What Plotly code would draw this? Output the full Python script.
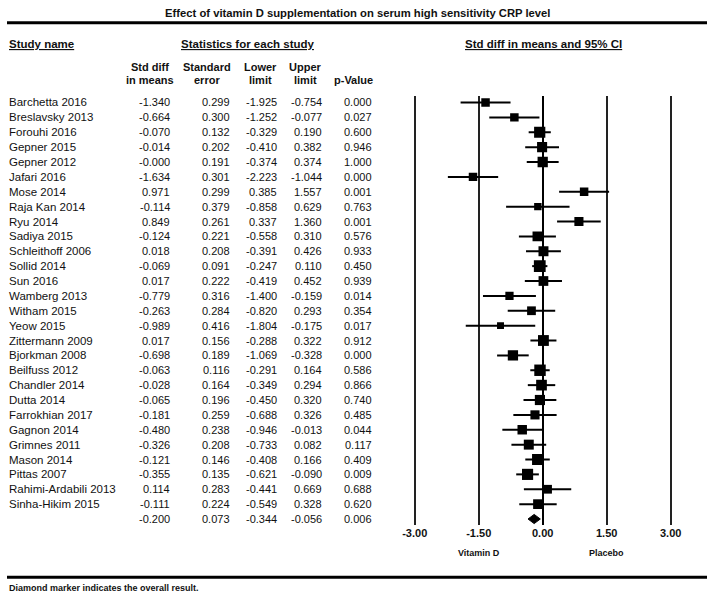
import plotly.graph_objects as go

# ---------------- data ----------------
studies = ["Barchetta 2016", "Breslavsky 2013", "Forouhi 2016", "Gepner 2015", "Gepner 2012",
           "Jafari 2016", "Mose 2014", "Raja Kan 2014", "Ryu 2014", "Sadiya 2015",
           "Schleithoff 2006", "Sollid 2014", "Sun 2016", "Wamberg 2013", "Witham 2015",
           "Yeow 2015", "Zittermann 2009", "Bjorkman 2008", "Beilfuss 2012", "Chandler 2014",
           "Dutta 2014", "Farrokhian 2017", "Gagnon 2014", "Grimnes 2011", "Mason 2014",
           "Pittas 2007", "Rahimi-Ardabili 2013", "Sinha-Hikim 2015"]
std_diff = [-1.340, -0.664, -0.070, -0.014, -0.0, -1.634, 0.971, -0.114, 0.849, -0.124,
            0.018, -0.069, 0.017, -0.779, -0.263, -0.989, 0.017, -0.698, -0.063, -0.028,
            -0.065, -0.181, -0.480, -0.326, -0.121, -0.355, 0.114, -0.111]
std_err = [0.299, 0.300, 0.132, 0.202, 0.191, 0.301, 0.299, 0.379, 0.261, 0.221,
           0.208, 0.091, 0.222, 0.316, 0.284, 0.416, 0.156, 0.189, 0.116, 0.164,
           0.196, 0.259, 0.238, 0.208, 0.146, 0.135, 0.283, 0.224]
lower = [-1.925, -1.252, -0.329, -0.410, -0.374, -2.223, 0.385, -0.858, 0.337, -0.558,
         -0.391, -0.247, -0.419, -1.400, -0.820, -1.804, -0.288, -1.069, -0.291, -0.349,
         -0.450, -0.688, -0.946, -0.733, -0.408, -0.621, -0.441, -0.549]
upper = [-0.754, -0.077, 0.190, 0.382, 0.374, -1.044, 1.557, 0.629, 1.360, 0.310,
         0.426, 0.110, 0.452, -0.159, 0.293, -0.175, 0.322, -0.328, 0.164, 0.294,
         0.320, 0.326, -0.013, 0.082, 0.166, -0.090, 0.669, 0.328]
p_value = [0.000, 0.027, 0.600, 0.946, 1.000, 0.000, 0.001, 0.763, 0.001, 0.576,
           0.933, 0.450, 0.939, 0.014, 0.354, 0.017, 0.912, 0.000, 0.586, 0.866,
           0.740, 0.485, 0.044, 0.117, 0.409, 0.009, 0.688, 0.620]

overall = {"std_diff": -0.200, "std_err": 0.073, "lower": -0.344, "upper": -0.056, "p": 0.006}

tick_vals = [-3.0, -1.5, 0.0, 1.5, 3.0]
tick_text = ["-3.00", "-1.50", "0.00", "1.50", "3.00"]

title = "Effect of vitamin D supplementation on serum high sensitivity CRP level"
col_head1 = ["Std diff", "Standard", "Lower", "Upper", ""]
col_head2 = ["in means", "error", "limit", "limit", "p-Value"]
footnote = "Diamond marker indicates the overall result."

# ---------------- layout helpers ----------------
W, H = 708, 595
FONT = "Liberation Sans, Arial, sans-serif"
TXT = "#111111"


def px(p):
    return p / W


def py(p):
    return 1 - p / H


n = len(studies)
rows = list(range(n))
overall_row = n
row_top_px, row_bot_px = 102.5, 519.0
step = (row_bot_px - row_top_px) / n
dom_top_px, dom_bot_px = 96.0, 525.0
y_range = [(dom_bot_px - row_top_px) / step, (dom_top_px - row_top_px) / step]

fig = go.Figure()

# CI lines and weighted squares
tau2 = 0.08
sizes = [3.5 / (s ** 2 + tau2) ** 0.5 for s in std_err]
fig.add_trace(go.Scatter(
    x=std_diff, y=rows, mode="markers",
    marker=dict(symbol="square", size=sizes, color="black", opacity=1, line=dict(width=0)),
    error_x=dict(type="data", symmetric=False,
                 array=[u - e for u, e in zip(upper, std_diff)],
                 arrayminus=[e - l for e, l in zip(std_diff, lower)],
                 color="black", thickness=2, width=0),
    hoverinfo="skip", showlegend=False))

# overall diamond
h = 0.31
fig.add_trace(go.Scatter(
    x=[overall["lower"], overall["std_diff"], overall["upper"], overall["std_diff"], overall["lower"]],
    y=[overall_row, overall_row - h, overall_row, overall_row + h, overall_row],
    mode="lines", fill="toself", fillcolor="black", line=dict(color="black", width=1),
    hoverinfo="skip", showlegend=False))

ann = []
# title and headers
ann.append(dict(text="<b>" + title + "</b>", x=px(358), y=py(13), xanchor="center", yanchor="middle",
                font=dict(size=11.25)))
und = '<b><span style="text-decoration:underline">{}</span></b>'
ann.append(dict(text=und.format("Study name"), x=px(7), y=py(44), xanchor="left", yanchor="middle",
                font=dict(size=11.5)))
ann.append(dict(text=und.format("Statistics for each study"), x=px(248), y=py(44), xanchor="center",
                yanchor="middle", font=dict(size=11.5)))
ann.append(dict(text=und.format("Std diff in means and 95% CI"), x=px(543), y=py(44), xanchor="center",
                yanchor="middle", font=dict(size=11.5)))

head_centers = [150, 207, 260, 305, 353]
for c, t1, t2 in zip(head_centers, col_head1, col_head2):
    if t1:
        ann.append(dict(text="<b>" + t1 + "</b>", x=px(c), y=py(67), xanchor="center", yanchor="middle",
                        font=dict(size=11)))
    ann.append(dict(text="<b>" + t2 + "</b>", x=px(c), y=py(80.5), xanchor="center", yanchor="middle",
                    font=dict(size=11)))

# table body
col_right = [172, 232, 279, 324, 374]
for i in rows:
    ann.append(dict(text=studies[i], x=px(7), y=i, yref="y", xanchor="left", yanchor="middle",
                    font=dict(size=11.5)))
    vals = [std_diff[i], std_err[i], lower[i], upper[i], p_value[i]]
    for c, v in zip(col_right, vals):
        ann.append(dict(text=f"{v:.3f}", x=px(c), y=i, yref="y", xanchor="right", yanchor="middle",
                        font=dict(size=11)))
ov_vals = [overall["std_diff"], overall["std_err"], overall["lower"], overall["upper"], overall["p"]]
for c, v in zip(col_right, ov_vals):
    ann.append(dict(text=f"{v:.3f}", x=px(c), y=overall_row, yref="y", xanchor="right", yanchor="middle",
                    font=dict(size=11)))

# axis side labels
ann.append(dict(text="<b>Vitamin D</b>", x=-1.5, xref="x", y=py(553), xanchor="center", yanchor="middle",
                font=dict(size=9)))
ann.append(dict(text="<b>Placebo</b>", x=1.5, xref="x", y=py(553), xanchor="center", yanchor="middle",
                font=dict(size=9)))
ann.append(dict(text="<b>" + footnote + "</b>", x=px(7), y=py(588), xanchor="left", yanchor="middle",
                font=dict(size=9)))

for a in ann:
    a.setdefault("xref", "paper")
    a.setdefault("yref", "paper")
    a["showarrow"] = False
    a["font"]["family"] = FONT
    a["font"]["color"] = TXT

shapes = [
    dict(type="line", xref="paper", yref="paper", x0=px(7), x1=px(707), y0=py(22.7), y1=py(22.7),
         line=dict(color="black", width=3)),
    dict(type="line", xref="paper", yref="paper", x0=px(7), x1=px(707), y0=py(577.3), y1=py(577.3),
         line=dict(color="black", width=3)),
]

x_lo_px, x_hi_px = 393.4, 692.0
fig.update_layout(
    width=W, height=H, margin=dict(l=0, r=0, t=0, b=0),
    paper_bgcolor="white", plot_bgcolor="white",
    showlegend=False, annotations=ann, shapes=shapes,
    font=dict(family=FONT, color=TXT),
    xaxis=dict(domain=[px(x_lo_px), px(x_hi_px)], range=[-3.5, 3.5],
               tickvals=tick_vals, ticktext=["<b>" + t + "</b>" for t in tick_text],
               tickfont=dict(size=11, family=FONT, color=TXT),
               showgrid=True, gridcolor="#222", gridwidth=1.5,
               zeroline=True, zerolinecolor="black", zerolinewidth=2,
               showline=False, ticks="", fixedrange=True),
    yaxis=dict(domain=[py(dom_bot_px), py(dom_top_px)], range=y_range,
               showgrid=False, zeroline=False, showticklabels=False, showline=False,
               ticks="", fixedrange=True),
)

fig.write_html("out.html", config={"displayModeBar": False},
               post_script="document.body.style.margin='0';document.body.style.padding='0';")
